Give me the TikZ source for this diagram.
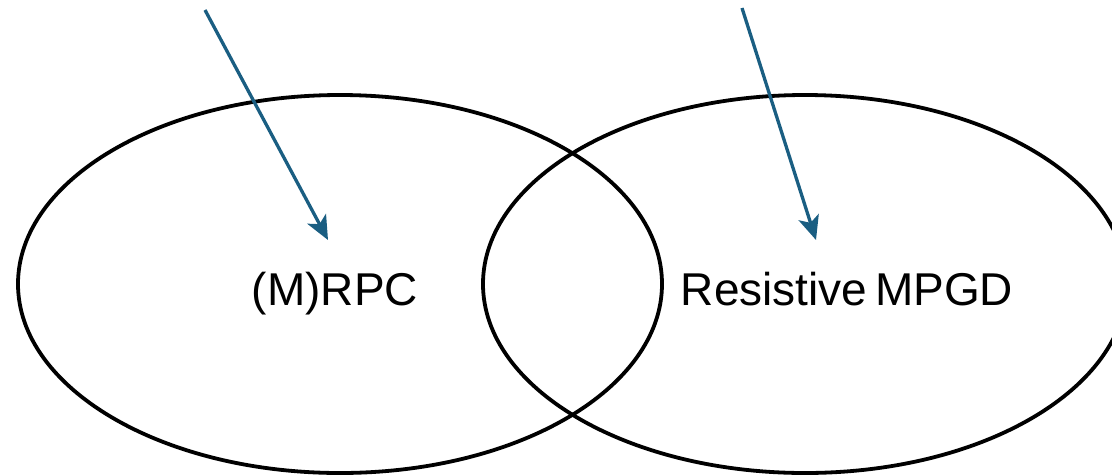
\documentclass[tikz,border=0pt]{standalone}
\usepackage{fontspec}
\setmainfont{Liberation Sans}
\usetikzlibrary{shapes.geometric,arrows.meta}
\definecolor{arrowblue}{RGB}{26,94,130}

\begin{document}
\begin{tikzpicture}[x=1pt,y=-1pt,
    blob/.style={ellipse,draw,line width=3.8pt,minimum width=644pt,minimum height=378pt,inner sep=0pt},
    pointer/.style={-{Stealth[length=24pt,width=21pt,inset=6pt]},line width=3.3pt,draw=arrowblue}]
  \useasboundingbox (0,0) rectangle (1112,475);
  \node[blob] (rpc) at (340,284) {};
  \node[blob] (mpgd) at (805,284) {};
  \node[font=\fontsize{46}{55}\selectfont,anchor=base] (rpc label) at (335,305) {(M)RPC};
  \node[font=\fontsize{46}{55}\selectfont,anchor=base] (mpgd label) at (847,305) {Resistive\,MPGD};
  \coordinate (rpc tail) at (205,10);
  \coordinate (rpc tip) at (328,240);
  \coordinate (mpgd tail) at (742,8);
  \coordinate (mpgd tip) at (816,240);
  \draw[pointer] (rpc tail) -- (rpc tip);
  \draw[pointer] (mpgd tail) -- (mpgd tip);
\end{tikzpicture}
\end{document}
